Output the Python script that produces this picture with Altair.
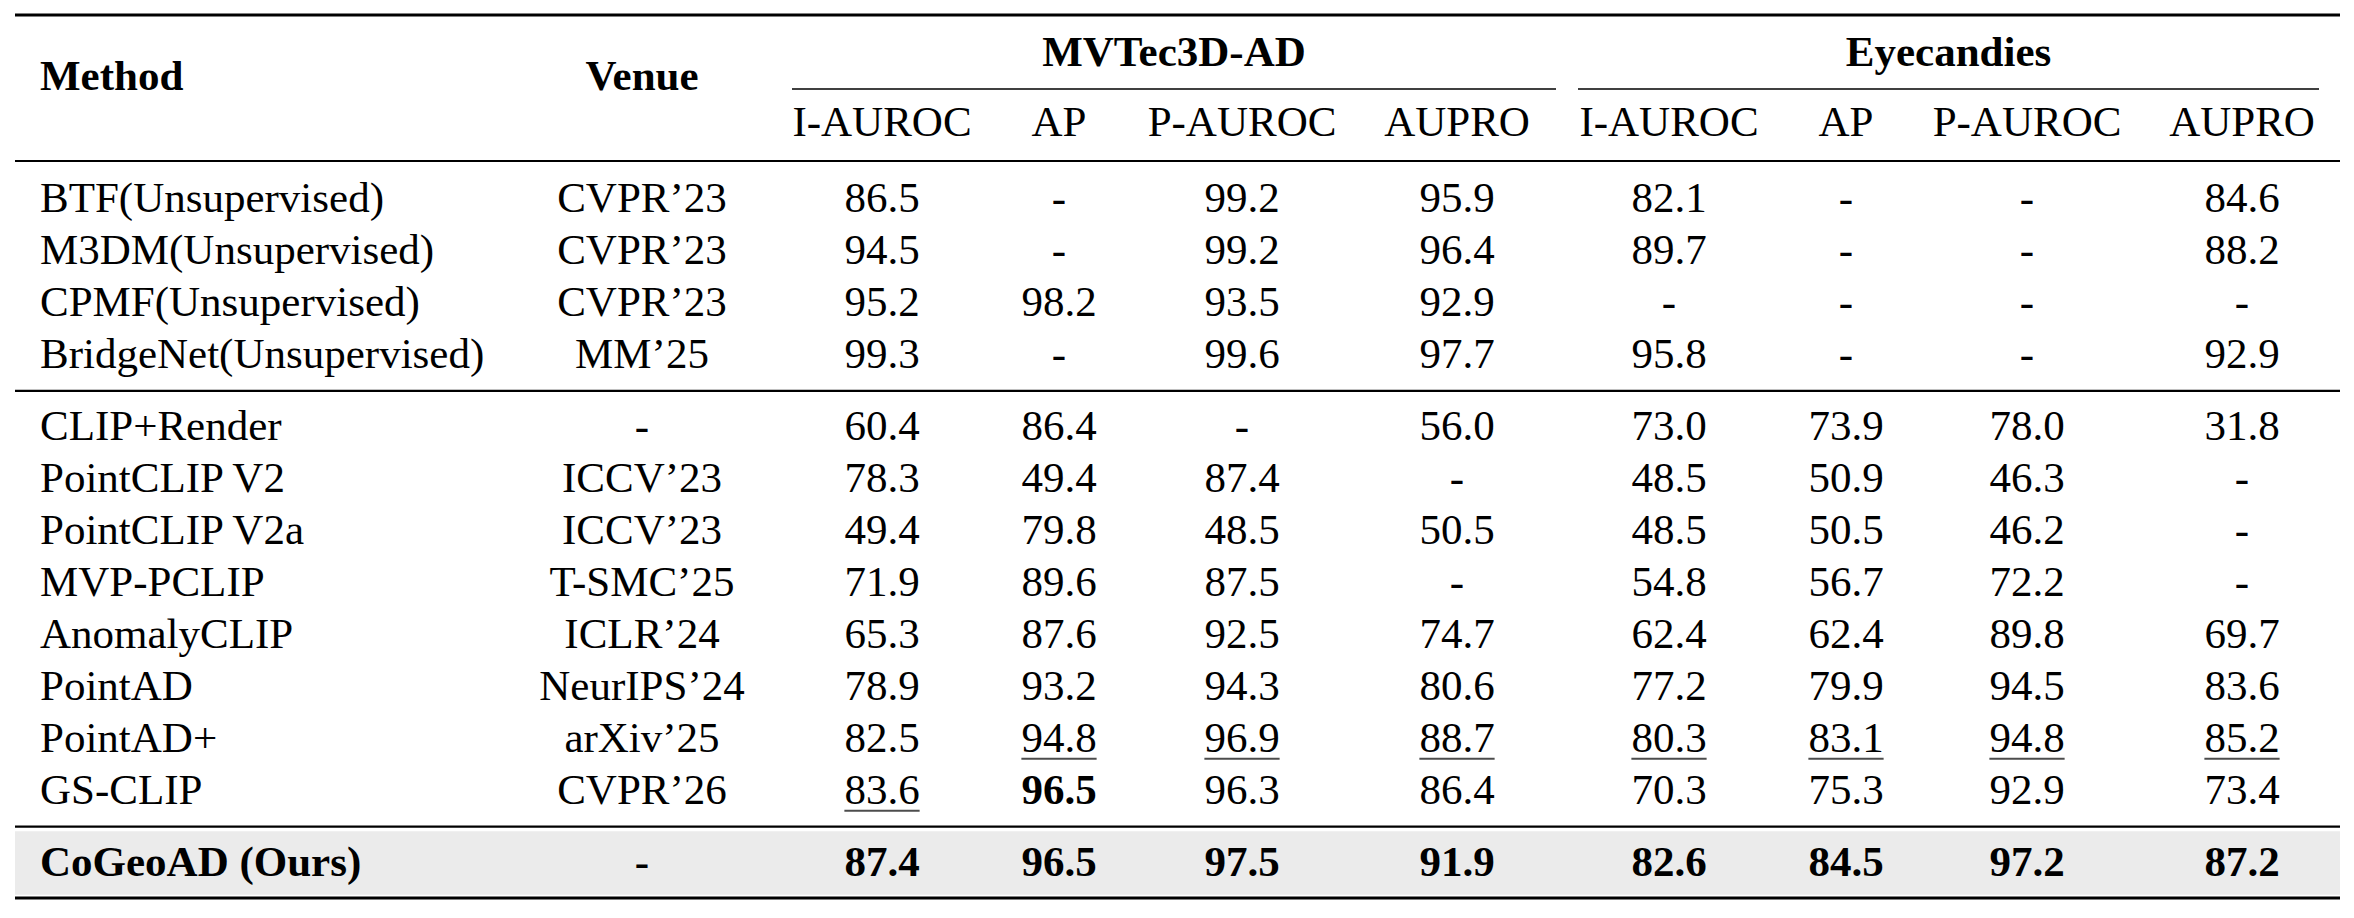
import altair as alt
import pandas as pd

# ---------------- data ----------------
methods = ["BTF(Unsupervised)", "M3DM(Unsupervised)", "CPMF(Unsupervised)", "BridgeNet(Unsupervised)",
           "CLIP+Render", "PointCLIP V2", "PointCLIP V2a", "MVP-PCLIP", "AnomalyCLIP", "PointAD",
           "PointAD+", "GS-CLIP", "CoGeoAD (Ours)"]
venues = ["CVPR’23", "CVPR’23", "CVPR’23", "MM’25",
          "-", "ICCV’23", "ICCV’23", "T-SMC’25", "ICLR’24", "NeurIPS’24",
          "arXiv’25", "CVPR’26", "-"]
groups = [0, 0, 0, 0, 1, 1, 1, 1, 1, 1, 1, 1, 2]

datasets = ["MVTec3D-AD", "Eyecandies"]
metrics = ["I-AUROC", "AP", "P-AUROC", "AUPRO"]

mvtec_i_auroc = [86.5, 94.5, 95.2, 99.3, 60.4, 78.3, 49.4, 71.9, 65.3, 78.9, 82.5, 83.6, 87.4]
mvtec_ap = [None, None, 98.2, None, 86.4, 49.4, 79.8, 89.6, 87.6, 93.2, 94.8, 96.5, 96.5]
mvtec_p_auroc = [99.2, 99.2, 93.5, 99.6, None, 87.4, 48.5, 87.5, 92.5, 94.3, 96.9, 96.3, 97.5]
mvtec_aupro = [95.9, 96.4, 92.9, 97.7, 56.0, None, 50.5, None, 74.7, 80.6, 88.7, 86.4, 91.9]
eye_i_auroc = [82.1, 89.7, None, 95.8, 73.0, 48.5, 48.5, 54.8, 62.4, 77.2, 80.3, 70.3, 82.6]
eye_ap = [None, None, None, None, 73.9, 50.9, 50.5, 56.7, 62.4, 79.9, 83.1, 75.3, 84.5]
eye_p_auroc = [None, None, None, None, 78.0, 46.3, 46.2, 72.2, 89.8, 94.5, 94.8, 92.9, 97.2]
eye_aupro = [84.6, 88.2, None, 92.9, 31.8, None, None, None, 69.7, 83.6, 85.2, 73.4, 87.2]

value_columns = [mvtec_i_auroc, mvtec_ap, mvtec_p_auroc, mvtec_aupro,
                 eye_i_auroc, eye_ap, eye_p_auroc, eye_aupro]

bold_rows = ["CoGeoAD (Ours)"]
bold_cells = [("GS-CLIP", "MVTec3D-AD", "AP")]
underlined_cells = [("PointAD+", "MVTec3D-AD", "AP"), ("PointAD+", "MVTec3D-AD", "P-AUROC"),
                    ("PointAD+", "MVTec3D-AD", "AUPRO"), ("PointAD+", "Eyecandies", "I-AUROC"),
                    ("PointAD+", "Eyecandies", "AP"), ("PointAD+", "Eyecandies", "P-AUROC"),
                    ("PointAD+", "Eyecandies", "AUPRO"), ("GS-CLIP", "MVTec3D-AD", "I-AUROC")]

# ---------------- layout (pixels / row slots) ----------------
FONT = "Liberation Serif"
FS = 43
W, H = 2338, 902
ROW_PITCH = 52.0
FIRST_ROW_Y = 191.0
GROUP_GAP = 0.38
METHOD_X = 32
VENUE_X = 634
METRIC_X = {"MVTec3D-AD": [874, 1051, 1234, 1449], "Eyecandies": [1661, 1838, 2019, 2234]}
TITLE_SPAN = {"MVTec3D-AD": (784, 1548), "Eyecandies": (1570, 2311)}
TABLE_X0, TABLE_X1 = 7, 2332

SLOT_TITLE = -2.808
SLOT_HEAD = -2.346
SLOT_SUB = -1.462


def slot(i):
    return i + GROUP_GAP * groups[i]


cells = []
cells.append(dict(x=METHOD_X, y=SLOT_HEAD, t="Method", bold=True, left=True))
cells.append(dict(x=VENUE_X, y=SLOT_HEAD, t="Venue", bold=True, left=False))
for d in datasets:
    xs = METRIC_X[d]
    cells.append(dict(x=sum(TITLE_SPAN[d]) / 2, y=SLOT_TITLE, t=d, bold=True, left=False))
    for m, xm in zip(metrics, xs):
        cells.append(dict(x=xm, y=SLOT_SUB, t=m, bold=False, left=False))

underlines = []
for i, name in enumerate(methods):
    b = name in bold_rows
    cells.append(dict(x=METHOD_X, y=slot(i), t=name, bold=b, left=True))
    cells.append(dict(x=VENUE_X, y=slot(i), t=venues[i], bold=b, left=False))
    k = 0
    for d in datasets:
        for m, xm in zip(metrics, METRIC_X[d]):
            v = value_columns[k][i]
            k += 1
            txt = "-" if v is None else f"{v:.1f}"
            cb = b or (name, d, m) in bold_cells
            cells.append(dict(x=xm, y=slot(i), t=txt, bold=cb, left=False))
            if (name, d, m) in underlined_cells:
                underlines.append(dict(x=xm, y=slot(i)))

cells_df = pd.DataFrame(cells)
ul_df = pd.DataFrame(underlines)

sep1 = (slot(3) + slot(4)) / 2
sep2 = (slot(11) + slot(12)) / 2
top_rule = -3.538
head_rule = -0.731
title_rule = -2.115
bottom_rule = 13.442

rules_df = pd.DataFrame([
    dict(x=TABLE_X0, x2=TABLE_X1, y=top_rule, w=3.0),
    dict(x=TITLE_SPAN["MVTec3D-AD"][0], x2=TITLE_SPAN["MVTec3D-AD"][1], y=title_rule, w=1.6),
    dict(x=TITLE_SPAN["Eyecandies"][0], x2=TITLE_SPAN["Eyecandies"][1], y=title_rule, w=1.6),
    dict(x=TABLE_X0, x2=TABLE_X1, y=head_rule, w=2.2),
    dict(x=TABLE_X0, x2=TABLE_X1, y=sep1, w=2.2),
    dict(x=TABLE_X0, x2=TABLE_X1, y=sep2, w=2.2),
    dict(x=TABLE_X0, x2=TABLE_X1, y=bottom_rule, w=3.0),
])
band_df = pd.DataFrame([dict(x=TABLE_X0, x2=TABLE_X1, y=sep2 + 0.09, y2=bottom_rule - 0.06)])

y_lo = -FIRST_ROW_Y / ROW_PITCH
y_hi = (H - FIRST_ROW_Y) / ROW_PITCH
XS = alt.Scale(domain=[0, W], range=[0, W], nice=False, zero=False)
YS = alt.Scale(domain=[y_lo, y_hi], reverse=True, nice=False, zero=False)


def X(f="x"):
    return alt.X(f"{f}:Q", scale=XS, axis=None)


def Y(f="y"):
    return alt.Y(f"{f}:Q", scale=YS, axis=None)


band = alt.Chart(band_df).mark_rect(color="#ebebeb").encode(
    x=X(), x2="x2:Q", y=Y(), y2="y2:Q")

rules = alt.Chart(rules_df).mark_rule(color="#000000").encode(
    x=X(), x2="x2:Q", y=Y(), strokeWidth=alt.StrokeWidth("w:Q", scale=None))


def text_layer(bold, left):
    return alt.Chart(cells_df).transform_filter(
        f"datum.bold == {'true' if bold else 'false'} && datum.left == {'true' if left else 'false'}"
    ).mark_text(
        font=FONT, fontSize=FS, fontWeight="bold" if bold else "normal",
        align="left" if left else "center", baseline="middle", color="#000000"
    ).encode(x=X(), y=Y(), text="t:N")


ul = alt.Chart(ul_df).mark_tick(
    orient="horizontal", size=1.75 * FS, thickness=2, color="#000000", yOffset=20
).encode(x=X(), y=Y())

chart = alt.layer(
    band, rules,
    text_layer(False, True), text_layer(True, True),
    text_layer(False, False), text_layer(True, False),
    ul,
).properties(
    width=W, height=H, padding=0, background="#ffffff",
    autosize=alt.AutoSizeParams(type="none")
).configure_view(stroke=None)

chart.save("out.html", embed_options={"renderer": "svg", "actions": False})
